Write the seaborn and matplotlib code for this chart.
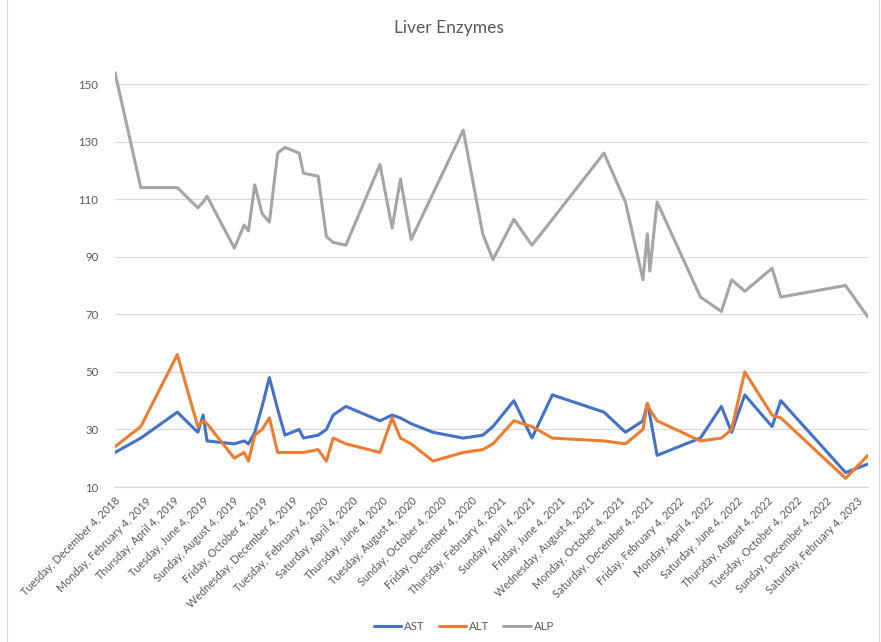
import matplotlib
matplotlib.use("Agg")
import matplotlib.pyplot as plt
import seaborn as sns
import pandas as pd
from matplotlib.lines import Line2D

dates = [
    "2018-12-04", "2019-01-26", "2019-04-11", "2019-05-23", "2019-06-03", "2019-06-11",
    "2019-08-06", "2019-08-26", "2019-09-04", "2019-09-17", "2019-10-02", "2019-10-17",
    "2019-11-03", "2019-11-18", "2019-12-17", "2019-12-26", "2020-01-25", "2020-02-11",
    "2020-02-25", "2020-03-22", "2020-05-31", "2020-06-25", "2020-07-12", "2020-08-03",
    "2020-09-17", "2020-11-18", "2020-12-28", "2021-01-18", "2021-03-02", "2021-04-08",
    "2021-05-20", "2021-09-03", "2021-10-17", "2021-11-22", "2021-12-01", "2021-12-06",
    "2021-12-21", "2022-03-20", "2022-05-02", "2022-05-23", "2022-06-19", "2022-08-14",
    "2022-09-01", "2023-01-12", "2023-02-27",
]
ast = [22, 27, 36, 29, 35, 26, 25, 26, 25, 29, 38, 48, 37, 28, 30, 27, 28, 30, 35, 38,
       33, 35, 34, 32, 29, 27, 28, 31, 40, 27, 42, 36, 29, 33, 39, 35, 21, 27, 38, 29,
       42, 31, 40, 15, 18]
alt = [24, 31, 56, 31, 33, 32, 20, 22, 19, 28, 30, 34, 22, 22, 22, 22, 23, 19, 27, 25,
       22, 34, 27, 25, 19, 22, 23, 25, 33, 31, 27, 26, 25, 30, 39, 37, 33, 26, 27, 30,
       50, 35, 34, 13, 21]
alp = [154, 114, 114, 107, 109, 111, 93, 101, 99, 115, 105, 102, 126, 128, 126, 119, 118,
       97, 95, 94, 122, 100, 117, 96, 112, 134, 98, 89, 103, 94, 103, 126, 109, 82, 98, 85,
       109, 76, 71, 82, 78, 86, 76, 80, 69]
series_names = ["AST", "ALT", "ALP"]
colors = ["#4472C4", "#ED7D31", "#A5A5A5"]
y_ticks = [10, 30, 50, 70, 90, 110, 130, 150]
title = "Liver Enzymes"

d = pd.to_datetime(dates)
df = pd.concat([
    pd.DataFrame({"Date": d, "Value": ast, "Enzyme": "AST"}),
    pd.DataFrame({"Date": d, "Value": alt, "Enzyme": "ALT"}),
    pd.DataFrame({"Date": d, "Value": alp, "Enzyme": "ALP"}),
])

sns.set_theme(style="white")
plt.rcParams["font.family"] = ["Lato", "DejaVu Sans"]

W, H = 881, 642
fig = plt.figure(figsize=(W / 100, H / 100), dpi=100)
ax = fig.add_axes([115 / W, 1 - 487 / H, (868 - 115) / W, (487 - 61) / H])

sns.lineplot(data=df, x="Date", y="Value", hue="Enzyme", hue_order=series_names,
             palette=colors, linewidth=2.2, ax=ax, legend=False, sort=False,
             estimator=None)

ax.set_xlim(d[0], d[-1])
ax.set_ylim(10, 158)
ax.set_yticks(y_ticks)
ax.yaxis.grid(True, color="#D9D9D9", linewidth=0.9)
ax.xaxis.grid(False)
for s in ["top", "right", "left"]:
    ax.spines[s].set_visible(False)
ax.spines["bottom"].set_color("#D9D9D9")
ax.spines["bottom"].set_linewidth(0.9)
ax.tick_params(axis="both", length=0, colors="#595959", labelsize=7.8)
ax.tick_params(axis="y", pad=12, labelsize=8.2)
ax.set_xlabel("")
ax.set_ylabel("")

xt = pd.date_range("2018-12-04", "2023-02-04", freq=pd.DateOffset(months=2))
ax.set_xticks(xt)
ax.set_xticklabels([t.strftime("%A, %B ") + str(t.day) + t.strftime(", %Y") for t in xt],
                   rotation=45, ha="right", rotation_mode="anchor")
ax.tick_params(axis="x", pad=6)

fig.text(449 / W, 1 - 28 / H, title, ha="center", va="center", fontsize=12.5,
         color="#595959")

handles = [Line2D([0], [0], color=c, lw=2.2) for c in colors]
fig.legend(handles, series_names, loc="center", bbox_to_anchor=(464 / W, 1 - 626 / H),
           ncol=3, frameon=False, fontsize=8.2, handlelength=2.4, columnspacing=1.2,
           handletextpad=0.3, labelcolor="#595959")

# chart border (left/right)
fig.add_artist(Line2D([7 / W, 7 / W], [0, 1], color="#D9D9D9", lw=0.9))
fig.add_artist(Line2D([879 / W, 879 / W], [0, 1], color="#D9D9D9", lw=0.9))

fig.savefig("out.png", dpi=100, facecolor="white")
